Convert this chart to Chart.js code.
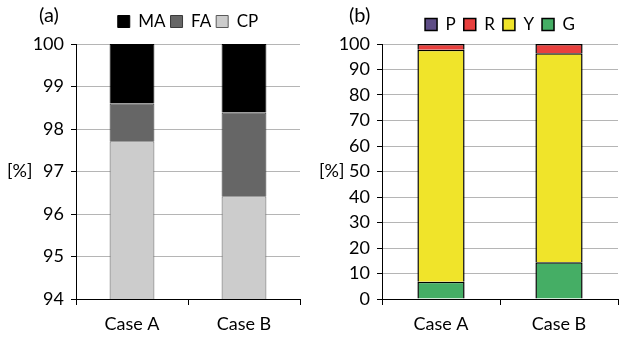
<!DOCTYPE html>
<html>
<head>
<meta charset="utf-8">
<script src="https://cdn.jsdelivr.net/npm/chart.js@4.4.1/dist/chart.umd.min.js"></script>
<style>
  html, body { margin: 0; padding: 0; background: #fff; }
  #wrap { position: relative; width: 619px; height: 338px; overflow: hidden; font-family: 'Lato', 'Liberation Sans', sans-serif; color: #000; }
  .panel { position: absolute; top: 0; height: 338px; }
  .lbl { position: absolute; font-size: 18px; line-height: 18px; white-space: nowrap; }
  .tag { font-size: 20px; line-height: 20px; }
</style>
</head>
<body>
<div id="wrap">
  <div class="panel" style="left:0;width:310px"><canvas id="chartA" width="310" height="338"></canvas></div>
  <div class="panel" style="left:310px;width:309px"><canvas id="chartB" width="309" height="338"></canvas></div>
  <div class="lbl tag" style="left:39px;top:4px">(a)</div>
  <div class="lbl tag" style="left:349px;top:4px">(b)</div>
  <div class="lbl" style="left:7px;top:161px">[%]</div>
  <div class="lbl" style="left:319px;top:161px">[%]</div>
</div>
<script>
// Categories shared by both panels
const categories = ['Case A', 'Case B'];

// Panel (a): composition, stacked from the bottom CP, FA, MA
const cpValues = [97.71, 96.42];
const faValues = [0.89, 1.97];
const maValues = [1.40, 1.61];
const tickValuesA = [94, 95, 96, 97, 98, 99, 100];

// Panel (b): stacked from the bottom G, Y, R, P
const gValues = [6.8, 14.4];
const yValues = [90.9, 82.0];
const rValues = [2.3, 3.6];
const pValues = [0, 0];
const tickValuesB = [0, 10, 20, 30, 40, 50, 60, 70, 80, 90, 100];

const FONT = { family: "'Lato', 'Liberation Sans', sans-serif", size: 18 };
const LEGEND_FONT = { family: "'Lato', 'Liberation Sans', sans-serif", size: 17 };

// Keeps the legend box at a fixed height so the plot area starts at a set line
function legendHeightPlugin(h) {
  return {
    id: 'legendHeight',
    beforeLayout(chart) {
      const lg = chart.legend;
      if (lg && !lg._heightFixed) {
        const fit = lg.fit;
        lg.fit = function () { fit.call(this); this.height = h; };
        lg._heightFixed = true;
      }
    }
  };
}

function makeOptions(cfg) {
  return {
    responsive: false,
    animation: false,
    layout: { padding: { top: cfg.padTop, right: cfg.padRight, left: 0, bottom: 0 } },
    plugins: {
      tooltip: { enabled: false },
      legend: {
        position: 'top',
        fullSize: false,
        reverse: true,
        labels: {
          color: '#000',
          font: LEGEND_FONT,
          boxWidth: 12,
          boxHeight: 12,
          padding: cfg.legendPad
        }
      }
    },
    scales: {
      x: {
        stacked: true,
        offset: true,
        grid: { display: true, drawOnChartArea: false, drawTicks: true, tickLength: 6, tickColor: '#000', tickWidth: 1 },
        border: { display: true, color: '#000', width: 1 },
        ticks: { color: '#000', font: FONT, padding: 8 },
        afterFit(scale) { scale.height = cfg.xHeight; }
      },
      y: {
        stacked: true,
        min: cfg.min,
        max: cfg.max,
        afterBuildTicks(scale) { scale.ticks = cfg.ticks.map(v => ({ value: v })); },
        grid: { color: '#b5b5b5', lineWidth: 1, tickLength: 5, tickColor: '#000', tickWidth: 1 },
        border: { display: true, color: '#000', width: 1 },
        ticks: { color: '#000', font: FONT, padding: 7 },
        afterFit(scale) { scale.width = cfg.yWidth; }
      }
    }
  };
}

const barShape = { categoryPercentage: 1.0, barPercentage: 0.4 };

new Chart(document.getElementById('chartA'), {
  type: 'bar',
  data: {
    labels: categories,
    datasets: [
      { label: 'CP', data: cpValues, backgroundColor: '#cccccc', borderColor: '#5a5a5a', borderWidth: 1, ...barShape },
      { label: 'FA', data: faValues, backgroundColor: '#666666', borderColor: '#3a3a3a', borderWidth: 1, ...barShape },
      { label: 'MA', data: maValues, backgroundColor: '#000000', borderColor: '#000000', borderWidth: 1, ...barShape }
    ]
  },
  options: makeOptions({ padTop: 8, padRight: 10, min: 94, max: 100, ticks: tickValuesA, yWidth: 76, xHeight: 39, legendPad: 5 }),
  plugins: [legendHeightPlugin(36)]
});

new Chart(document.getElementById('chartB'), {
  type: 'bar',
  data: {
    labels: categories,
    datasets: [
      { label: 'G', data: gValues, backgroundColor: '#45ae65', borderColor: '#000', borderWidth: 1.5, ...barShape },
      { label: 'Y', data: yValues, backgroundColor: '#f0e42a', borderColor: '#000', borderWidth: 1.5, ...barShape },
      { label: 'R', data: rValues, backgroundColor: '#e8403e', borderColor: '#000', borderWidth: 1.5, ...barShape },
      { label: 'P', data: pValues, backgroundColor: '#5e4d86', borderColor: '#000', borderWidth: 1.5, ...barShape }
    ]
  },
  options: makeOptions({ padTop: 8, padRight: 1, min: 0, max: 100, ticks: tickValuesB, yWidth: 72, xHeight: 39, legendPad: 8 }),
  plugins: [legendHeightPlugin(36)]
});
</script>
</body>
</html>
